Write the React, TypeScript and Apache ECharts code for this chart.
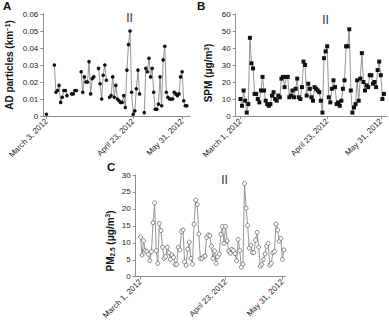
import React, { useEffect, useRef } from "react";
import * as echarts from "echarts";

// Panel A: AD particles (km^-1), one value per day from March 1, 2012 (null = no data)
const adParticles: (number | null)[] = [
  null, null, 0.001, null, null, null, null,
  0.030, 0.014, 0.015, 0.018, 0.008, 0.011, 0.015, 0.015, 0.012,
  null, null,
  0.013, 0.013, 0.015, 0.015,
  null, null,
  0.026, 0.014, 0.023, 0.020, 0.020, 0.032, 0.013, 0.022, 0.023,
  null, null,
  0.028, 0.019, 0.010, 0.024, 0.030, 0.021,
  null,
  0.011, 0.012, 0.023, 0.011, 0.018, 0.010, 0.009, 0.008, 0.008, 0.012,
  0.005, 0.027, 0.042, 0.050, 0.014, 0.001, 0.003, 0.016, 0.027, 0.013,
  null, null,
  0.002, 0.028, 0.026, 0.034, 0.023, 0.028, 0.014, 0.004, 0.004, 0.007,
  0.023, 0.006, 0.033, 0.041, 0.014, 0.011, 0.010, 0.010, 0.010, 0.014,
  0.013, 0.012, 0.013, 0.023, 0.026, 0.009, 0.006, 0.006,
  null, null,
];

// Panel B: SPM (ug/m3), March 1 .. May 31, 2012
const spm: number[] = [
  10, 6, 15, 9, 2, 7, 46, 31, 28, 13,
  13, 10, 8, 15, 23, 15, 9, 7, 6, 7,
  12, 14, 10, 9, 12, 11, 22, 23, 17, 23,
  23, 11, 12, 15, 11, 16, 22, 11, 10, 17,
  32, 30, 12, 19, 16, 11, 9, 17, 16, 15,
  14, 9, 2, 34, 38, 41, 11, 8, 16, 21,
  17, 7, 8, 6, 9, 16, 21, 41, 41, 51,
  15, 2, 5, 7, 21, 9, 22, 37, 20, 15,
  18, 17, 24, 24, 19, 20, 17, 27, 32, 24,
  10, 13,
];

// Panel C: PM2.5 (ug/m3), March 1 .. May 31, 2012
const pm25: number[] = [
  11.7, 6.4, 10.6, 7.7, 7.4, 6.6, 4.7, 7.4, 15.9, 21.8,
  7.7, 3.9, 15.7, 13.6, 8.7, 5.4, 5.9, 8.7, 7.1, 5.1,
  6.4, 5.7, 3.6, 3.6, 8.7, 7.9, 13.3, 13.8, 4.4, 3.4,
  8.1, 10.2, 5.4, 3.7, 15.5, 22.6, 21.3, 12.6, 5.3, 5.4,
  5.9, 6.1, 11.6, 12.3, 12.1, 9.0, 5.4, 7.6, 3.9, 5.9,
  6.7, 12.5, 14.8, 9.8, 14.8, 10.6, 7.6, 6.9, 8.1, 7.7,
  6.8, 4.7, 11.0, 7.7, 2.8, 3.7, 27.5, 20.2, 15.1, 8.4,
  9.3, 7.1, 7.1, 10.8, 13.1, 8.7, 3.1, 3.6, 5.1, 6.7,
  9.0, 9.8, 3.4, 3.9, 7.1, 7.4, 15.5, 13.8, 10.5, 11.3,
  5.1, 7.9,
];

// x tick labels and the category positions where they sit
const xLabelsA = ["March 3, 2012", "April 23, 2012", "May 31, 2012"];
const xLabelsBC = ["March 1, 2012", "April 23, 2012", "May 31, 2012"];
const tickIdxA = [2, 57, 88];
const tickIdxB = [3, 58, 92];
const tickIdxC = [3, 57, 93];

// y axis ranges
const yMaxA = 0.06, yStepA = 0.01;
const yMaxB = 60, yStepB = 10;
const yMaxC = 30, yStepC = 5;

function makeDates(y: number, m: number, d: number, n: number): string[] {
  const out: string[] = [];
  for (let i = 0; i < n; i++) {
    const dt = new Date(y, m, d + i);
    out.push(`${dt.getFullYear()}-${String(dt.getMonth() + 1).padStart(2, "0")}-${String(dt.getDate()).padStart(2, "0")}`);
  }
  return out;
}

const datesA = makeDates(2012, 2, 1, 94); // Mar 1 .. Jun 3
const datesB = makeDates(2012, 1, 27, 97); // Feb 27 .. Jun 2
const datesC = makeDates(2012, 1, 27, 96); // Feb 27 .. Jun 1

const FONT = "'Liberation Sans', Arial, sans-serif";
const AXIS = "#8f8f8f";
const LINE = "#8a8a8a";

function pad(values: (number | null)[], before: number, total: number) {
  const arr: (number | null)[] = [];
  for (let i = 0; i < before; i++) arr.push(null);
  values.forEach((v) => arr.push(v));
  while (arr.length < total) arr.push(null);
  return arr;
}

function xAxis(gridIndex: number, dates: string[], ticks: number[], labels: string[]) {
  return {
    type: "category",
    gridIndex,
    data: dates,
    boundaryGap: false,
    axisLine: { show: true, lineStyle: { color: AXIS, width: 1 } },
    axisTick: {
      show: true,
      length: 3,
      interval: (i: number) => ticks.includes(i),
      lineStyle: { color: AXIS, width: 1 },
    },
    axisLabel: {
      interval: (i: number) => ticks.includes(i),
      formatter: (_v: string, i: number) => {
        const k = ticks.indexOf(i);
        return k >= 0 ? labels[k] : "";
      },
      rotate: 45,
      fontSize: 8,
      color: "#222",
      fontFamily: FONT,
      margin: 4,
    },
    splitLine: { show: false },
  };
}

function yAxis(gridIndex: number, max: number, interval: number, decimals: number) {
  return {
    type: "value",
    gridIndex,
    min: 0,
    max,
    interval,
    axisLine: { show: true, lineStyle: { color: AXIS, width: 1 } },
    axisTick: { show: true, length: 3, lineStyle: { color: AXIS, width: 1 } },
    axisLabel: {
      fontSize: 8,
      color: "#222",
      fontFamily: FONT,
      margin: 5,
      formatter: (v: number) => (v === 0 ? "0" : v.toFixed(decimals)),
    },
    splitLine: { show: false },
  };
}

const richBase = {
  a: { fontSize: 10, fontWeight: "bold", fontFamily: FONT, fill: "#111", lineHeight: 12 },
  sup: { fontSize: 6.5, fontWeight: "bold", fontFamily: FONT, fill: "#111", verticalAlign: "top", lineHeight: 12 },
  sub: { fontSize: 6.5, fontWeight: "bold", fontFamily: FONT, fill: "#111", verticalAlign: "bottom", lineHeight: 12 },
};

function yTitle(x: number, y: number, text: string) {
  return {
    type: "text",
    x,
    y,
    rotation: Math.PI / 2,
    style: {
      text,
      align: "center",
      verticalAlign: "middle",
      rich: richBase,
      fill: "#111",
    },
  };
}

function letter(x: number, y: number, text: string) {
  return {
    type: "text",
    x,
    y,
    style: { text, fontSize: 11.5, fontWeight: "bold", fontFamily: FONT, fill: "#111", align: "left", verticalAlign: "top" },
  };
}

function mark(x: number, y: number) {
  return {
    type: "text",
    x,
    y,
    style: { text: "II", fontSize: 12, fontFamily: FONT, fill: "#333", align: "center", verticalAlign: "middle" },
  };
}

export default function App() {
  const ref = useRef<HTMLDivElement>(null);
  useEffect(() => {
    document.body.style.margin = "0";
    if (!ref.current) return;
    const chart = echarts.init(ref.current, undefined, { renderer: "svg" });
    chart.setOption({
      animation: false,
      backgroundColor: "#fff",
      textStyle: { fontFamily: FONT },
      grid: [
        { left: 43.3, top: 14, width: 146.7, height: 102 },
        { left: 235.7, top: 14, width: 151.4, height: 102 },
        { left: 135.7, top: 175, width: 149.8, height: 101.7 },
      ],
      xAxis: [
        xAxis(0, datesA, tickIdxA, xLabelsA),
        xAxis(1, datesB, tickIdxB, xLabelsBC),
        xAxis(2, datesC, tickIdxC, xLabelsBC),
      ],
      yAxis: [
        yAxis(0, yMaxA, yStepA, 2),
        yAxis(1, yMaxB, yStepB, 0),
        yAxis(2, yMaxC, yStepC, 0),
      ],
      series: [
        {
          type: "line",
          xAxisIndex: 0,
          yAxisIndex: 0,
          data: pad(adParticles, 0, datesA.length),
          connectNulls: false,
          symbol: "circle",
          symbolSize: 3.6,
          showSymbol: true,
          showAllSymbol: true,
          itemStyle: { color: "#111" },
          lineStyle: { color: LINE, width: 0.9 },
        },
        {
          type: "line",
          xAxisIndex: 1,
          yAxisIndex: 1,
          data: pad(spm, 3, datesB.length),
          symbol: "rect",
          symbolSize: 4,
          showSymbol: true,
          showAllSymbol: true,
          itemStyle: { color: "#111" },
          lineStyle: { color: LINE, width: 0.9 },
        },
        {
          type: "line",
          xAxisIndex: 2,
          yAxisIndex: 2,
          data: pad(pm25, 3, datesC.length),
          symbol: "circle",
          symbolSize: 4,
          showSymbol: true,
          showAllSymbol: true,
          itemStyle: { color: "#fff", borderColor: "#666", borderWidth: 0.8 },
          lineStyle: { color: LINE, width: 0.9 },
        },
      ],
      graphic: [
        letter(3, 0, "A"),
        letter(197, 0, "B"),
        letter(107, 161, "C"),
        mark(129.5, 17.5),
        mark(325.5, 20),
        mark(224.5, 180),
        yTitle(9.5, 65, "{a|AD particles (km}{sup|−1}{a|)}"),
        yTitle(208.8, 73, "{a|SPM (μg/m}{sup|3}{a|)}"),
        yTitle(110, 241, "{a|PM}{sub|2.5}{a| (μg/m}{sup|3}{a|)}"),
      ],
    });
    return () => chart.dispose();
  }, []);
  return <div ref={ref} style={{ width: 389, height: 329 }} />;
}
